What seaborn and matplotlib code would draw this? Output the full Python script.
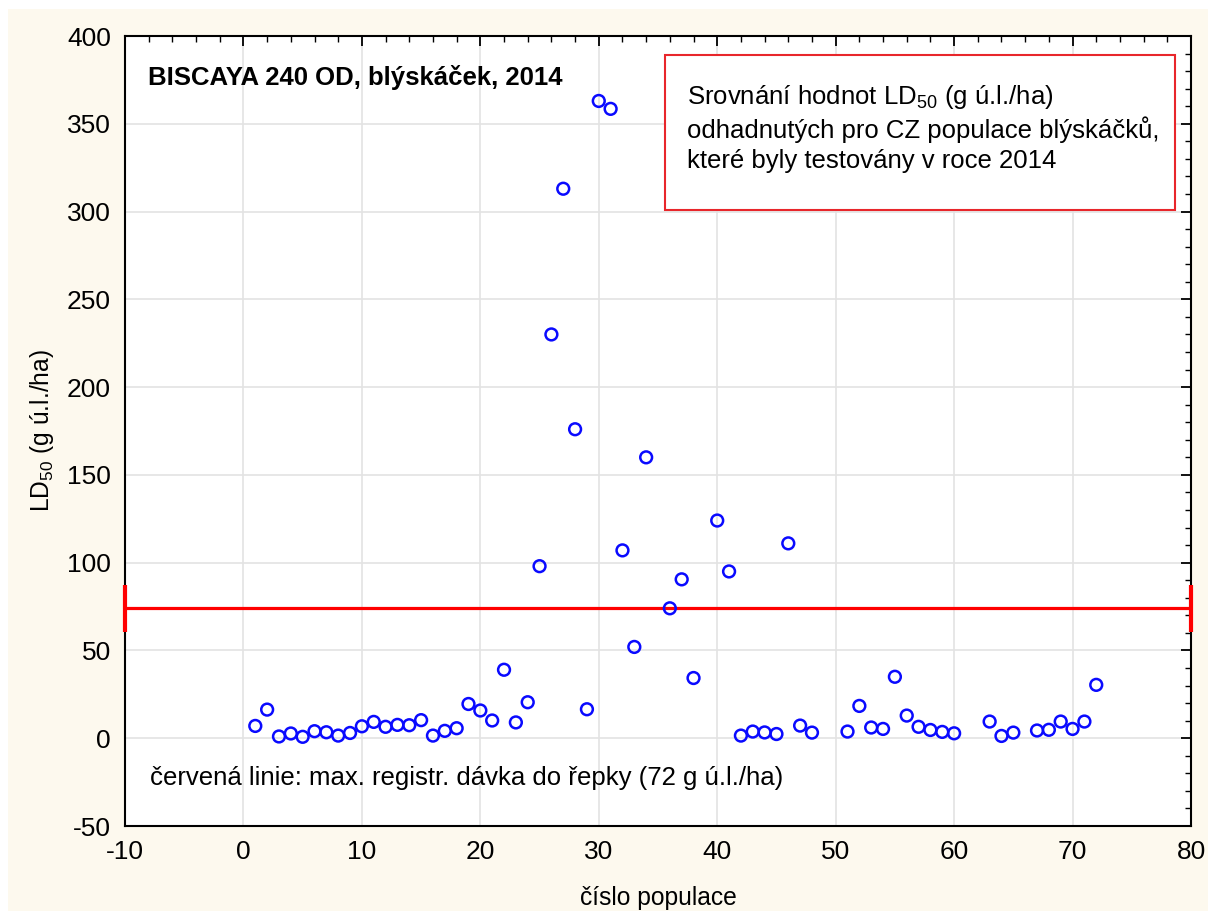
import numpy as np
import pandas as pd
import matplotlib
matplotlib.use("Agg")
import matplotlib.pyplot as plt
from matplotlib.patches import Rectangle
from matplotlib.ticker import MultipleLocator
import seaborn as sns

# population number and estimated LD50 (g u.l./ha)
populace = [1, 2, 3, 4, 5, 6, 7, 8, 9, 10, 11, 12, 13, 14, 15, 16, 17, 18,
            19, 20, 21, 22, 23, 24, 25, 26, 27, 28, 29, 30, 31, 32, 33, 34,
            36, 37, 38, 40, 41, 42, 43, 44, 45, 46, 47, 48, 51, 52, 53, 54,
            55, 56, 57, 58, 59, 60, 63, 64, 65, 67, 68, 69, 70, 71, 72]
ld50 = [7.0, 16.3, 1.0, 2.7, 0.8, 4.0, 3.4, 1.5, 3.0, 6.8, 9.3, 6.5, 7.6,
        7.4, 10.3, 1.5, 4.2, 5.7, 19.5, 15.8, 10.1, 39.0, 9.0, 20.5, 98.0,
        230.0, 313.0, 176.0, 16.5, 363.0, 358.5, 107.0, 52.0, 160.0, 74.0,
        90.5, 34.3, 124.0, 95.0, 1.5, 3.8, 3.3, 2.4, 111.0, 7.2, 3.2, 3.8,
        18.4, 6.1, 5.3, 35.0, 12.9, 6.5, 4.7, 3.6, 2.8, 9.5, 1.3, 3.2, 4.4,
        4.8, 9.5, 5.3, 9.5, 30.4]

max_davka = 74.0          # red line level
cap_half = 13.5           # half height of the end caps
x_range = (-10, 80)
y_range = (-50, 400)

df = pd.DataFrame({"populace": populace, "ld50": ld50})

sns.set_theme(style="white")
plt.rcParams["font.family"] = ["Liberation Sans", "DejaVu Sans"]
plt.rcParams["mathtext.fontset"] = "custom"
plt.rcParams["mathtext.rm"] = "Liberation Sans"
plt.rcParams["mathtext.it"] = "Liberation Sans:italic"
plt.rcParams["mathtext.bf"] = "Liberation Sans:bold"
plt.rcParams["axes.unicode_minus"] = False
plt.rcParams["text.color"] = "black"
plt.rcParams["axes.labelcolor"] = "black"
plt.rcParams["xtick.color"] = "black"
plt.rcParams["ytick.color"] = "black"

fig = plt.figure(figsize=(12.08, 9.11), dpi=100, facecolor="white")
# cream page background
fig.patches.append(Rectangle((8 / 1208, 0), 1, 1 - 9 / 911, transform=fig.transFigure,
                             facecolor="#fdf9ee", edgecolor="none", zorder=-10))
ax = fig.add_axes([125 / 1208, 85 / 911, 1066 / 1208, 790 / 911])
ax.set_facecolor("white")

ax.set_xlim(*x_range)
ax.set_ylim(*y_range)
ax.xaxis.set_major_locator(MultipleLocator(10))
ax.xaxis.set_minor_locator(MultipleLocator(2))
ax.yaxis.set_major_locator(MultipleLocator(50))
ax.yaxis.set_minor_locator(MultipleLocator(10))
ax.grid(True, which="major", color="#e3e3e3", linewidth=1.2)
ax.set_axisbelow(True)

# red line with end caps
ax.plot(list(x_range), [max_davka, max_davka], color="#ff0000", lw=2.3, zorder=3)
ax.vlines(list(x_range), max_davka - cap_half, max_davka + cap_half,
          color="#ff0000", lw=3, zorder=4, clip_on=False)

sns.scatterplot(data=df, x="populace", y="ld50", ax=ax, marker="o", s=72,
                facecolor="none", edgecolor="#0a0aff", linewidth=1.8, zorder=5)

for sp in ax.spines.values():
    sp.set_color("black")
    sp.set_linewidth(1.5)
    sp.set_visible(True)

ax.tick_params(which="both", direction="in", top=True, right=True, color="black",
               labelsize=19, labelcolor="black")
ax.tick_params(which="major", length=7, width=1.3, pad=10)
ax.tick_params(which="minor", length=4, width=1.0)

ax.set_xlabel("číslo populace", fontsize=17.7, labelpad=16)
ax.set_ylabel("LD$_{50}$ (g ú.l./ha)", fontsize=17.7, labelpad=8)

ax.text(0.0216, 0.948, "BISCAYA 240 OD, blýskáček, 2014", transform=ax.transAxes,
        fontsize=18.5, fontweight="bold", ha="left", va="center")
ax.text(0.023, 0.061, "červená linie: max. registr. dávka do řepky (72 g ú.l./ha)",
        transform=ax.transAxes, fontsize=18.5, ha="left", va="center")

ax.add_patch(Rectangle((0.5066, 0.780), 0.4784, 0.196, transform=ax.transAxes,
                       facecolor="white", edgecolor="#e8262b", lw=1.5, zorder=6))
ax.text(0.527, 0.884,
        "Srovnání hodnot LD$_{50}$ (g ú.l./ha)\nodhadnutých pro CZ populace blýskáčků,\nkteré byly testovány v roce 2014",
        transform=ax.transAxes, fontsize=18.5, ha="left", va="center",
        linespacing=1.28, zorder=7)

fig.savefig("out.png", dpi=100, facecolor=fig.get_facecolor())
